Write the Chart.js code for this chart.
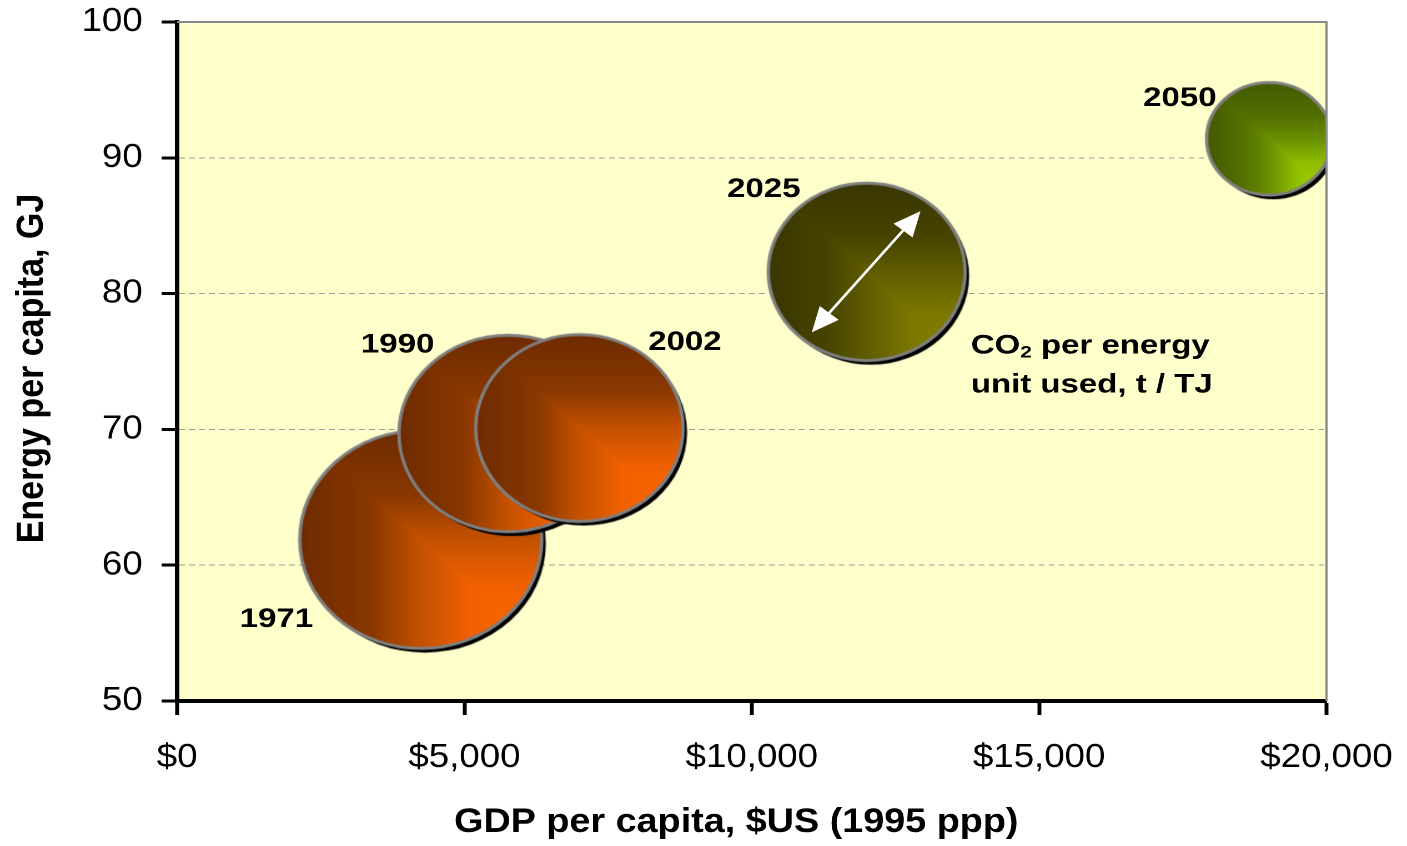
<!DOCTYPE html>
<html>
<head>
<meta charset="utf-8">
<title>Energy and GDP per capita</title>
<script src="https://cdn.jsdelivr.net/npm/chart.js@4.4.1/dist/chart.umd.min.js"></script>
<style>
  html, body { margin: 0; padding: 0; background: #fff; }
</style>
</head>
<body>
<!-- drawn on a 1267px-wide canvas and stretched to 1407px, like the original slide graphic -->
<canvas id="chart" width="1267" height="846" style="width:1407px;height:846px"></canvas>
<script>
// ---- data ----
const years           = ['1971', '1990', '2002', '2025', '2050'];
const gdpPerCapita    = [4240, 5760, 7000, 12000, 19000];   // $US (1995 ppp)
const energyPerCapita = [61.9, 69.7, 70.1, 81.6, 91.4];      // GJ
const co2PerEnergy    = [62, 50.5, 45.5, 41, 16.5];          // t / TJ (bubble area)
const xTicks = [0, 5000, 10000, 15000, 20000];
const yTicks = [50, 60, 70, 80, 90, 100];

// ---- look ----
const FONT = '"Liberation Sans", Arial, Helvetica, sans-serif';
const MAX_RADIUS = 109;            // px, radius of the largest bubble
const ORANGE = [[0, '#ff6a00'], [0.3, '#f06000'], [0.52, '#c05000'], [0.7, '#8a3800'], [1, '#6e2b00']];
const OLIVE  = [[0, '#878400'], [0.28, '#7a7700'], [0.5, '#605d00'], [0.7, '#474400'], [1, '#393600']];
const GREEN  = [[0, '#a4d400'], [0.28, '#90c000'], [0.5, '#6a9000'], [0.7, '#547000'], [1, '#445a00']];
const bubbleFills = [ORANGE, ORANGE, ORANGE, OLIVE, GREEN];
// year label centre relative to its bubble
const yearLabelOffset = [[-130, 78], [-99.5, -90.5], [95, -87.5], [-92.7, -84.5], [-80.3, -42.5]];

const maxCo2 = Math.max(...co2PerEnergy);
const radii = co2PerEnergy.map(v => MAX_RADIUS * Math.sqrt(v / maxCo2));

// bubble sprite: drop shadow, "from corner" gradient (bright at bottom-right), grey rim
function bubbleSprite(r, stops) {
  const pad = 8;
  const size = Math.ceil(2 * (r + pad));
  const cv = document.createElement('canvas');
  cv.width = cv.height = size;
  const g = cv.getContext('2d');
  const c = size / 2;

  g.fillStyle = '#000';
  g.beginPath(); g.arc(c + 3.6, c + 4.2, r, 0, Math.PI * 2); g.fill();

  g.save();
  g.beginPath(); g.arc(c, c, r, 0, Math.PI * 2); g.clip();
  const x0 = c - r, y0 = c - r, d = 2 * r;
  const vert = g.createLinearGradient(0, y0, 0, y0 + d);
  const horz = g.createLinearGradient(x0, 0, x0 + d, 0);
  stops.forEach(([t, col]) => { vert.addColorStop(1 - t, col); horz.addColorStop(1 - t, col); });
  g.fillStyle = vert;
  g.fillRect(x0, y0, d, d);
  g.fillStyle = horz;
  g.beginPath(); g.moveTo(x0, y0); g.lineTo(x0, y0 + d); g.lineTo(x0 + d, y0 + d); g.closePath(); g.fill();
  g.restore();

  g.strokeStyle = '#808080';
  g.lineWidth = 3;
  g.beginPath(); g.arc(c, c, r, 0, Math.PI * 2); g.stroke();
  return cv;
}
const sprites = radii.map((r, i) => bubbleSprite(r, bubbleFills[i]));

// text drawn slightly wide, as in the slide's call-outs
function wideText(ctx, text, x, y) {
  ctx.save(); ctx.translate(x, y); ctx.scale(1.1, 1); ctx.fillText(text, 0, 0); ctx.restore();
}

function arrowHead(ctx, tx, ty, ux, uy, len, half) {
  const bx = tx - ux * len, by = ty - uy * len;
  ctx.beginPath();
  ctx.moveTo(tx, ty);
  ctx.lineTo(bx - uy * half, by + ux * half);
  ctx.lineTo(bx + uy * half, by - ux * half);
  ctx.closePath(); ctx.fill();
}

// axis boxes have fixed sizes; label overhang must not push the plot area in
function fixedBox(prop, size) {
  return s => {
    s[prop] = size;
    s.paddingTop = s.paddingBottom = s.paddingLeft = s.paddingRight = 0;
  };
}

const plotFrame = {
  id: 'plotFrame',
  beforeDraw(chart) {
    const { ctx, chartArea: a } = chart;
    ctx.save();
    ctx.fillStyle = '#ffffcc';
    ctx.fillRect(a.left, a.top, a.right - a.left, a.bottom - a.top);
    ctx.restore();
  },
  afterDatasetsDraw(chart) {
    const { ctx, chartArea: a } = chart;
    ctx.save();
    ctx.strokeStyle = '#888';
    ctx.lineWidth = 2;
    ctx.beginPath();
    ctx.moveTo(a.left, a.top); ctx.lineTo(a.right, a.top); ctx.lineTo(a.right, a.bottom);
    ctx.stroke();
    ctx.restore();
  }
};

const notes = {
  id: 'notes',
  afterDatasetsDraw(chart) {
    const ctx = chart.ctx;
    const pts = chart.getDatasetMeta(0).data;
    ctx.save();
    ctx.fillStyle = '#000';
    ctx.font = `bold 27px ${FONT}`;
    ctx.textAlign = 'center';
    ctx.textBaseline = 'alphabetic';
    years.forEach((yr, i) => {
      const [dx, dy] = yearLabelOffset[i];
      wideText(ctx, yr, pts[i].x + dx, pts[i].y + dy + 9.7);
    });

    // size key on the 2025 bubble
    const k = pts[3];
    const ax = k.x - 49.5, ay = k.y + 60.5, bx = k.x + 48.4, by = k.y - 60.8;
    const len = Math.hypot(bx - ax, by - ay), ux = (bx - ax) / len, uy = (by - ay) / len;
    ctx.strokeStyle = '#fff'; ctx.fillStyle = '#fff'; ctx.lineWidth = 2.5;
    ctx.beginPath(); ctx.moveTo(ax + ux * 20, ay + uy * 20); ctx.lineTo(bx - ux * 20, by - uy * 20); ctx.stroke();
    arrowHead(ctx, bx, by, ux, uy, 25, 11);
    arrowHead(ctx, ax, ay, -ux, -uy, 25, 11);

    ctx.fillStyle = '#000';
    ctx.textAlign = 'left';
    const nx = k.x + 93.7, ny = k.y + 81.5;
    ctx.save();
    ctx.translate(nx, ny); ctx.scale(1.1, 1);
    ctx.font = `bold 27px ${FONT}`;
    ctx.fillText('CO', 0, 0);
    let w = ctx.measureText('CO').width;
    ctx.font = `bold 17px ${FONT}`;
    ctx.fillText('2', w, 4);
    w += ctx.measureText('2').width;
    ctx.font = `bold 27px ${FONT}`;
    ctx.fillText(' per energy', w, 0);
    ctx.fillText('unit used, t / TJ', 0, 39);
    ctx.restore();
    ctx.restore();
  },
  afterDraw(chart) {
    const ctx = chart.ctx;
    ctx.save();
    ctx.fillStyle = '#000';
    ctx.font = `bold 34px ${FONT}`;
    ctx.textAlign = 'center';
    ctx.textBaseline = 'alphabetic';
    ctx.fillText('GDP per capita, $US (1995 ppp)', 663, 832);
    ctx.translate(38.7, 368.5);
    ctx.rotate(-Math.PI / 2);
    ctx.fillText('Energy per capita, GJ', 0, 0);
    ctx.restore();
  }
};

new Chart(document.getElementById('chart'), {
  type: 'bubble',
  data: {
    datasets: [{
      label: 'CO2 per energy unit used, t / TJ',
      data: years.map((_, i) => ({ x: gdpPerCapita[i], y: energyPerCapita[i], r: radii[i] })),
      pointStyle: c => sprites[c.dataIndex],
      clip: 0
    }]
  },
  options: {
    responsive: false,
    devicePixelRatio: 2,
    animation: false,
    events: [],
    layout: { autoPadding: false, padding: { top: 22, right: 72.5, left: 0, bottom: 0 } },
    plugins: { legend: { display: false }, tooltip: { enabled: false } },
    scales: {
      x: {
        type: 'linear',
        min: xTicks[0], max: xTicks[xTicks.length - 1],
        afterBuildTicks: s => { s.ticks = xTicks.map(v => ({ value: v })); },
        afterFit: fixedBox('height', 145),
        grid: { drawOnChartArea: false, color: '#000', tickColor: '#000', tickWidth: 3.5, tickLength: 14 },
        border: { color: '#000', width: 4 },
        ticks: {
          padding: 23, color: '#000', font: { family: FONT, size: 33 }, maxRotation: 0,
          callback: v => '$' + v.toLocaleString('en-US')
        }
      },
      y: {
        type: 'linear',
        min: yTicks[0], max: yTicks[yTicks.length - 1],
        afterBuildTicks: s => { s.ticks = yTicks.map(v => ({ value: v })); },
        afterFit: fixedBox('width', 159.5),
        grid: { color: '#9a9a9a', lineWidth: 1, tickColor: '#000', tickWidth: 3, tickLength: 14, tickBorderDash: [] },
        border: { color: '#000', width: 4, dash: [5, 4] },
        ticks: { padding: 17, color: '#000', font: { family: FONT, size: 33 } }
      }
    }
  },
  plugins: [plotFrame, notes]
});
</script>
</body>
</html>
